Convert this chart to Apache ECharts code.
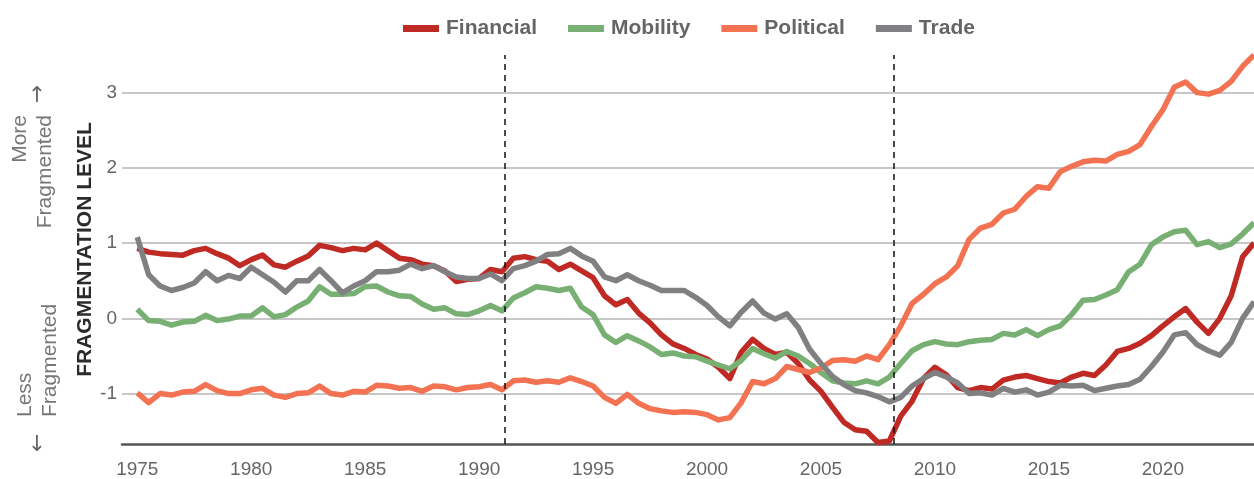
<!DOCTYPE html>
<html>
<head>
<meta charset="utf-8">
<title>Fragmentation level</title>
<script src="https://cdn.jsdelivr.net/npm/echarts@6/dist/echarts.min.js"></script>
<style>
  html, body { margin: 0; padding: 0; background: #fff; }
  #chart { width: 1254px; height: 479px; }
</style>
</head>
<body>
<div id="chart"></div>
<script>
// half-year steps, 1975.0 .. 2024.0
const halfYears = Array.from({ length: 99 }, (_, i) => 1975 + i * 0.5);

const financial = [
  0.93, 0.88, 0.86, 0.85, 0.84, 0.9, 0.93, 0.86, 0.8, 0.7,
  0.78, 0.84, 0.71, 0.68, 0.76, 0.83, 0.97, 0.94, 0.9, 0.93,
  0.91, 1.0, 0.9, 0.8, 0.78, 0.72, 0.7, 0.63, 0.49, 0.52,
  0.53, 0.65, 0.62, 0.8, 0.82, 0.78, 0.76, 0.65, 0.72, 0.63,
  0.54, 0.3, 0.18, 0.25, 0.07, -0.06, -0.22, -0.34, -0.4, -0.48,
  -0.54, -0.65, -0.8, -0.45, -0.28, -0.4, -0.48, -0.45, -0.6, -0.82,
  -0.97, -1.18, -1.38, -1.48, -1.5, -1.65, -1.63, -1.3, -1.1, -0.8,
  -0.65, -0.75, -0.92, -0.96, -0.92, -0.94, -0.82, -0.78, -0.76, -0.8,
  -0.84, -0.86, -0.78, -0.73, -0.76, -0.62, -0.44, -0.4, -0.33, -0.23,
  -0.1, 0.02, 0.13, -0.05, -0.2, 0.0, 0.3, 0.82, 1.0
];

const mobility = [
  0.12, -0.03, -0.04, -0.09, -0.05, -0.04, 0.04, -0.03, -0.01, 0.03,
  0.03, 0.14, 0.02, 0.05, 0.15, 0.23, 0.42, 0.32, 0.32, 0.33,
  0.42, 0.43, 0.35, 0.3, 0.29, 0.19, 0.12, 0.14, 0.06, 0.05,
  0.1, 0.17, 0.1, 0.27, 0.34, 0.42, 0.4, 0.37, 0.4, 0.15,
  0.05, -0.22, -0.32, -0.23, -0.3, -0.38, -0.48, -0.46, -0.5, -0.51,
  -0.57, -0.62, -0.67, -0.56, -0.4, -0.47, -0.53, -0.44, -0.5, -0.6,
  -0.72, -0.83, -0.86, -0.87, -0.83, -0.87, -0.78, -0.6, -0.43, -0.35,
  -0.31, -0.34, -0.35, -0.31, -0.29, -0.28, -0.2, -0.22, -0.15, -0.23,
  -0.15, -0.1, 0.05, 0.24, 0.25, 0.31, 0.38, 0.62, 0.72, 0.98,
  1.08, 1.15, 1.17, 0.98, 1.02, 0.94, 0.99, 1.12, 1.27
];

const political = [
  -0.99, -1.12, -1.0, -1.02, -0.98, -0.97, -0.88, -0.96, -1.0, -1.0,
  -0.95, -0.93, -1.02, -1.05, -1.0, -0.99, -0.9, -1.0, -1.02, -0.97,
  -0.98, -0.89, -0.9, -0.93, -0.92, -0.97, -0.9, -0.91, -0.95, -0.92,
  -0.91, -0.88, -0.95, -0.83, -0.82, -0.85, -0.83, -0.85, -0.79, -0.84,
  -0.9, -1.05, -1.13, -1.01, -1.13, -1.2, -1.23, -1.25, -1.24, -1.25,
  -1.28, -1.35, -1.32, -1.12, -0.84, -0.87, -0.8, -0.64, -0.68, -0.72,
  -0.66, -0.56, -0.55, -0.57, -0.5, -0.55, -0.35, -0.1, 0.2, 0.32,
  0.46, 0.55, 0.7, 1.05, 1.2, 1.25, 1.4, 1.45, 1.62, 1.75,
  1.73, 1.95, 2.02, 2.08, 2.1, 2.09, 2.18, 2.22, 2.31, 2.55,
  2.77, 3.07, 3.14, 3.0, 2.98, 3.03, 3.15, 3.35, 3.5
];

const trade = [
  1.08, 0.58, 0.43, 0.37, 0.41, 0.47, 0.62, 0.5, 0.57, 0.53,
  0.68, 0.58, 0.48, 0.35, 0.5, 0.5, 0.65, 0.5, 0.34, 0.43,
  0.5, 0.62, 0.62, 0.64, 0.72, 0.66, 0.7, 0.62, 0.55, 0.53,
  0.53, 0.59, 0.5, 0.66, 0.7, 0.76, 0.85, 0.86, 0.93, 0.83,
  0.76, 0.55, 0.5, 0.58, 0.5, 0.44, 0.37, 0.37, 0.37, 0.28,
  0.17, 0.02, -0.1, 0.08, 0.23, 0.07, -0.01, 0.06, -0.12, -0.41,
  -0.6, -0.77, -0.88, -0.96, -0.99, -1.04, -1.11, -1.05, -0.9, -0.8,
  -0.72, -0.78, -0.86, -1.0, -0.99, -1.02, -0.93, -0.98, -0.95, -1.02,
  -0.98, -0.89, -0.9, -0.89, -0.96, -0.93, -0.9, -0.88, -0.81, -0.64,
  -0.45, -0.22, -0.19, -0.35, -0.43, -0.49, -0.32, 0.0, 0.22
];

const yearTicks = [1975, 1980, 1985, 1990, 1995, 2000, 2005, 2010, 2015, 2020];
const levelTicks = [-1, 0, 1, 2, 3];
const eventYears = [1991.13, 2008.2];

const FONT = 'Liberation Sans, Arial, Helvetica, sans-serif';

const toPairs = vals => halfYears.map((t, i) => [t, vals[i]]);

const chart = echarts.init(document.getElementById('chart'), null, { renderer: 'canvas' });

const mkSeries = (name, vals, color) => ({
  name,
  type: 'line',
  data: toPairs(vals),
  showSymbol: false,
  symbol: 'none',
  lineStyle: { color, width: 5.5, join: 'round' },
  itemStyle: { color },
  animation: false
});

const series = [
  mkSeries('Financial', financial, '#c02a25'),
  mkSeries('Mobility', mobility, '#77b072'),
  mkSeries('Political', political, '#f37252'),
  mkSeries('Trade', trade, '#808083')
];

// vertical dashed event markers
series[0].markLine = {
  silent: true,
  symbol: 'none',
  label: { show: false },
  lineStyle: { color: '#111', type: [6, 5], width: 1.5 },
  data: eventYears.map(x => ({ xAxis: x }))
};

chart.setOption({
  backgroundColor: '#fff',
  textStyle: { fontFamily: FONT },
  legend: {
    left: 398,
    top: 13,
    icon: 'rect',
    itemWidth: 36,
    itemHeight: 7,
    itemGap: 31,
    textStyle: { fontFamily: FONT, fontSize: 21, fontWeight: 'bold', color: '#646567', padding: [0, 0, 0, 2] },
    data: ['Financial', 'Mobility', 'Political', 'Trade']
  },
  grid: { left: 122, right: 0, top: 55, bottom: 34 },
  xAxis: {
    type: 'value',
    min: 1974.33,
    max: 2024.0,
    axisLine: { show: true, onZero: false, lineStyle: { color: '#555', width: 2.5 } },
    axisTick: { show: false, customValues: yearTicks },
    splitLine: { show: false },
    axisLabel: {
      customValues: yearTicks,
      formatter: v => String(v),
      margin: 16,
      fontSize: 19,
      color: '#666',
      fontFamily: FONT
    }
  },
  yAxis: {
    type: 'value',
    min: -1.67,
    max: 3.5,
    name: 'FRAGMENTATION LEVEL',
    nameLocation: 'middle',
    nameRotate: 90,
    nameGap: 26,
    nameMoveOverlap: false,
    nameTextStyle: { fontFamily: FONT, fontSize: 21, fontWeight: 'bold', color: '#2b2b2b' },
    axisLine: { show: false },
    axisTick: { show: false, customValues: levelTicks },
    axisLabel: {
      customValues: levelTicks,
      margin: 5,
      fontSize: 19,
      color: '#666',
      fontFamily: FONT
    },
    splitLine: { show: true, lineStyle: { color: '#b5b5b5', width: 1.5 } }
  },
  graphic: [
    { type: 'text', x: 20, y: 115, rotation: Math.PI / 2,
      style: { text: 'More', font: '21px ' + FONT, fill: '#777', textAlign: 'right', textVerticalAlign: 'middle' } },
    { type: 'text', x: 45, y: 115, rotation: Math.PI / 2,
      style: { text: 'Fragmented', font: '21px ' + FONT, fill: '#777', textAlign: 'right', textVerticalAlign: 'middle' } },
    { type: 'text', x: 37, y: 96,
      style: { text: '↑', font: '22px DejaVu Sans', fill: '#666', textAlign: 'center', textVerticalAlign: 'middle' } },
    { type: 'text', x: 25, y: 417, rotation: Math.PI / 2,
      style: { text: 'Less', font: '21px ' + FONT, fill: '#777', textAlign: 'left', textVerticalAlign: 'middle' } },
    { type: 'text', x: 50, y: 417, rotation: Math.PI / 2,
      style: { text: 'Fragmented', font: '21px ' + FONT, fill: '#777', textAlign: 'left', textVerticalAlign: 'middle' } },
    { type: 'text', x: 37, y: 445,
      style: { text: '↓', font: '22px DejaVu Sans', fill: '#666', textAlign: 'center', textVerticalAlign: 'middle' } }
  ],
  series
});

window.addEventListener('resize', () => chart.resize());
</script>
</body>
</html>
